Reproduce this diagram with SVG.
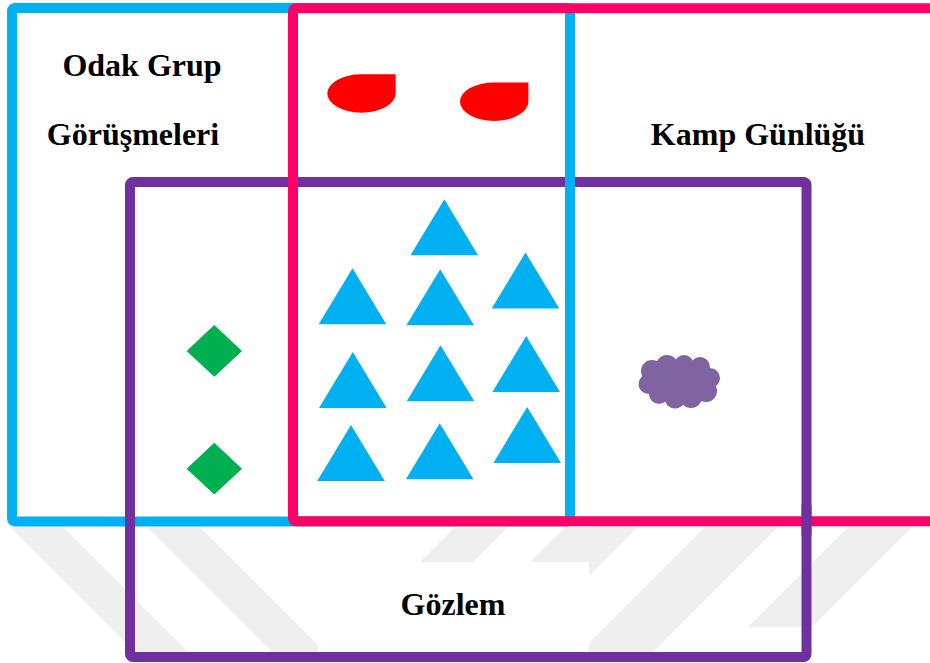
<svg xmlns="http://www.w3.org/2000/svg" width="930" height="663" viewBox="0 0 930 663">
  <defs>
    <style>
      .frame { fill: none; stroke-width: 10; stroke-linejoin: round; }
      .blue { stroke: #00b0f0; }
      .pink { stroke: #ff0066; }
      .purple { stroke: #7030a0; }
      .label { font-family: "Liberation Serif", "Times New Roman", serif; font-weight: bold; font-size: 32px; fill: #000; text-anchor: middle; }
      .stripe { fill: #efefef; }
      .tri { fill: #00b0f0; }
      .dia { fill: #00b050; }
      .drop { fill: #ff0000; }
      .cloud { fill: #8064a2; }
    </style>
    <path id="tri" d="M0 0 L33.8 56 L-33.8 56 Z"/>
    <path id="dia" d="M0 0 L27.7 26 L0 51.7 L-27.7 26 Z"/>
    <path id="drop" d="M0 -19.2 H34.2 V0 A34.2 19.2 0 0 1 0 19.2 A34.2 19.2 0 0 1 -34.2 0 A34.2 19.2 0 0 1 0 -19.2 Z"/>
  </defs>
  <rect width="930" height="663" fill="#ffffff"/>

  <g id="watermark">
    <polygon class="stripe" points="10,527 63,527 188,652 135,652"/>
    <polygon class="stripe" points="147,527 200,527 325,652 272,652"/>
    <polygon class="stripe" points="455,527 508,527 383,652 330,652"/>
    <polygon class="stripe" points="565,527 638,527 513,652 440,652"/>
    <polygon class="stripe" points="705,527 778,527 653,652 580,652"/>
    <polygon class="stripe" points="848,527 912,527 812,627 748,627"/>
  </g>

  <g id="gozlem">
    <rect x="318" y="562" width="271" height="92" fill="#ffffff"/>
    <rect class="frame purple" x="130" y="182" width="676.5" height="475" rx="3"/>
    <text class="label" x="453" y="615">Gözlem</text>
  </g>

  <g id="odak-grup">
    <rect class="frame blue" x="12" y="8" width="558" height="513.5" rx="3"/>
    <text class="label" x="142" y="76">Odak Grup</text>
    <text class="label" x="133" y="145">Görüşmeleri</text>
  </g>

  <g id="kamp-gunlugu">
    <rect class="frame pink" x="293" y="8.3" width="660" height="513" rx="3"/>
    <text class="label" x="758" y="145">Kamp Günlüğü</text>
  </g>

  <g id="gozlem-overlap">
    <path class="frame purple" d="M130 505 V535 M806.5 505 V535"/>
  </g>

  <g id="connectors"></g>

  <g id="drops">
    <use href="#drop" class="drop" x="361.5" y="93.5"/>
    <use href="#drop" class="drop" x="494.2" y="101.7"/>
  </g>

  <g id="triangles">
    <use href="#tri" class="tri" x="444.3" y="199.3"/>
    <use href="#tri" class="tri" x="352.5" y="268.3"/>
    <use href="#tri" class="tri" x="440.2" y="269.3"/>
    <use href="#tri" class="tri" x="525.5" y="252.5"/>
    <use href="#tri" class="tri" x="352.8" y="352"/>
    <use href="#tri" class="tri" x="440.5" y="345.2"/>
    <use href="#tri" class="tri" x="526.2" y="336"/>
    <use href="#tri" class="tri" x="351" y="425"/>
    <use href="#tri" class="tri" x="439.7" y="423.2"/>
    <use href="#tri" class="tri" x="527.2" y="407"/>
  </g>

  <g id="diamonds">
    <use href="#dia" class="dia" x="214.3" y="325"/>
    <use href="#dia" class="dia" x="214.3" y="442.7"/>
  </g>

  <g id="cloud" class="cloud">
    <ellipse cx="679" cy="382" rx="31" ry="17"/>
    <circle cx="652" cy="371" r="11"/>
    <circle cx="667" cy="366" r="11"/>
    <circle cx="684" cy="365" r="10"/>
    <circle cx="700" cy="367" r="10"/>
    <circle cx="710" cy="378" r="10"/>
    <circle cx="706" cy="391" r="11"/>
    <circle cx="691" cy="397" r="11"/>
    <circle cx="675" cy="398" r="10.5"/>
    <circle cx="659" cy="394" r="10"/>
    <circle cx="648.5" cy="384" r="10"/>
  </g>
</svg>
